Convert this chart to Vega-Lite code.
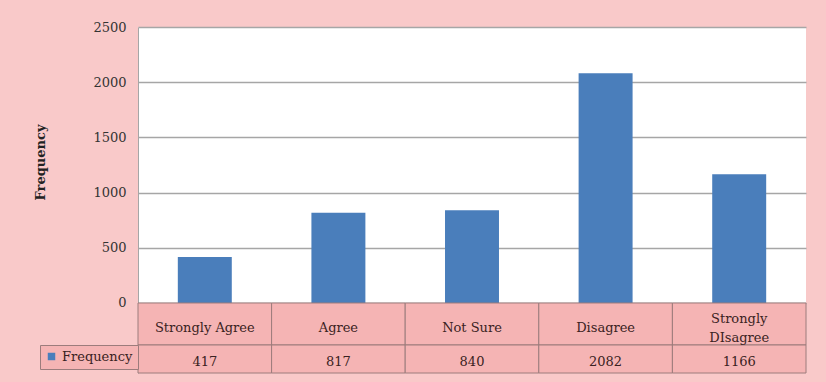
{
  "$schema": "https://vega.github.io/schema/vega-lite/v6.json",
  "width": 668,
  "height": 346,
  "autosize": {"type": "none"},
  "padding": {"left": 138, "top": 27, "right": 20, "bottom": 9},
  "background": "#f9c9c9",
  "config": {
    "view": {"fill": "white", "stroke": null},
    "font": "DejaVu Serif",
    "text": {"font": "DejaVu Serif"}
  },
  "data": {
    "values": [
      {"category": "Strongly Agree", "label": "Strongly Agree", "frequency": 417, "series": "Frequency"},
      {"category": "Agree", "label": "Agree", "frequency": 817, "series": "Frequency"},
      {"category": "Not Sure", "label": "Not Sure", "frequency": 840, "series": "Frequency"},
      {"category": "Disagree", "label": "Disagree", "frequency": 2082, "series": "Frequency"},
      {"category": "Strongly DIsagree", "label": "Strongly\nDIsagree", "frequency": 1166, "series": "Frequency"}
    ]
  },
  "layer": [
    {
      "mark": {"type": "bar", "width": {"band": 0.404}},
      "encoding": {
        "x": {"field": "category", "type": "nominal", "sort": null, "scale": {"paddingInner": 0, "paddingOuter": 0}, "axis": null},
        "y": {
          "field": "frequency",
          "type": "quantitative",
          "scale": {"domain": [-634.06, 2500], "nice": false, "zero": false},
          "axis": {
            "values": [0, 500, 1000, 1500, 2000, 2500],
            "format": "d",
            "title": "Frequency",
            "titleFont": "DejaVu Serif",
            "titleFontWeight": "bold",
            "titleFontSize": 13,
            "titleColor": "#222222",
            "titleX": -98,
            "titleY": 135,
            "titleAngle": 270,
            "titleAlign": "center",
            "titleBaseline": "middle",
            "grid": true,
            "gridColor": "#a6a6a6",
            "gridWidth": 1.5,
            "ticks": false,
            "domain": true,
            "domainColor": "#a6a6a6",
            "labelPadding": 12,
            "labelFont": "DejaVu Serif",
            "labelFontSize": 13,
            "labelColor": "#333333"
          }
        },
        "color": {
          "field": "series",
          "type": "nominal",
          "scale": {"range": ["#4a7ebb"]},
          "legend": {
            "orient": "none",
            "legendX": -98,
            "legendY": 318,
            "title": null,
            "symbolType": "square",
            "symbolSize": 56,
            "symbolStrokeWidth": 0,
            "labelFont": "DejaVu Serif",
            "labelFontSize": 13,
            "labelColor": "#3a2222",
            "labelOffset": 4,
            "padding": 5,
            "strokeColor": "#9c7c7c",
            "fillColor": "#f5b4b4"
          }
        }
      }
    },
    {
      "mark": {"type": "rect", "fill": "#f5b4b4", "stroke": "#9c7c7c", "strokeWidth": 1},
      "encoding": {
        "x": {"field": "category", "type": "nominal", "sort": null},
        "y": {"datum": 0},
        "y2": {"datum": -380.43}
      }
    },
    {
      "mark": {"type": "rect", "fill": "#f5b4b4", "stroke": "#9c7c7c", "strokeWidth": 1},
      "encoding": {
        "x": {"field": "category", "type": "nominal", "sort": null},
        "y": {"datum": -380.43},
        "y2": {"datum": -634.06}
      }
    },
    {
      "transform": [{"filter": "datum.category !== 'Strongly DIsagree'"}],
      "mark": {"type": "text", "fontSize": 13, "color": "#3a2222", "baseline": "middle", "dy": 4},
      "encoding": {
        "x": {"field": "category", "type": "nominal", "sort": null},
        "y": {"datum": -190.2},
        "text": {"field": "label"}
      }
    },
    {
      "transform": [{"filter": "datum.category === 'Strongly DIsagree'"}],
      "mark": {"type": "text", "fontSize": 13, "color": "#3a2222", "lineBreak": "\n", "lineHeight": 19, "baseline": "middle", "dy": -5},
      "encoding": {
        "x": {"field": "category", "type": "nominal", "sort": null},
        "y": {"datum": -190.2},
        "text": {"field": "label"}
      }
    },
    {
      "mark": {"type": "text", "fontSize": 13, "color": "#3a2222", "baseline": "middle", "dy": 3},
      "encoding": {
        "x": {"field": "category", "type": "nominal", "sort": null},
        "y": {"datum": -507.2},
        "text": {"field": "frequency"}
      }
    }
  ]
}
